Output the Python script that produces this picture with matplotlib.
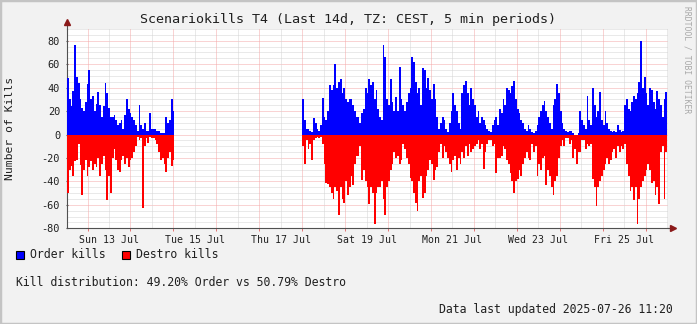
import datetime as dt
import numpy as np
import matplotlib
matplotlib.use('Agg')
import matplotlib.pyplot as plt
import matplotlib.dates as mdates
from matplotlib.patches import Rectangle

# kills per hour (CEST)
bin_hours = 1
seg1_start = dt.datetime(2025, 7, 12, 12, 30)
seg1_order = [48, 30, 24, 37, 76, 49, 44, 30, 23, 20,
              28, 43, 55, 30, 33, 20, 26, 36, 25, 15,
              24, 44, 35, 23, 15, 15, 17, 12, 8, 10,
              12, 5, 17, 30, 22, 18, 15, 12, 8, 3,
              25, 8, 5, 10, 3, 3, 18, 5, 5, 5,
              3, 3, 1, 1, 1, 15, 10, 12, 30, 20]
seg1_destro = [50, 30, 27, 35, 23, 22, 8, 26, 52, 30,
               22, 35, 28, 23, 30, 25, 28, 20, 35, 25,
               18, 30, 56, 35, 50, 20, 12, 22, 30, 32,
               22, 18, 25, 20, 28, 22, 20, 15, 10, 2,
               5, 3, 63, 10, 3, 7, 2, 3, 3, 5,
               8, 15, 22, 20, 25, 32, 20, 15, 27, 22]

seg2_start = dt.datetime(2025, 7, 18, 0, 0)
seg2_order = [30, 12, 5, 5, 3, 2, 14, 10, 5, 3,
              8, 31, 15, 12, 20, 42, 38, 42, 60, 40,
              45, 47, 35, 40, 30, 28, 30, 30, 25, 20,
              15, 15, 10, 18, 22, 40, 35, 47, 42, 45,
              30, 38, 22, 15, 12, 76, 66, 30, 25, 47,
              28, 20, 32, 20, 58, 30, 25, 20, 28, 35,
              40, 66, 62, 45, 35, 40, 25, 57, 55, 40,
              48, 38, 30, 43, 30, 15, 5, 10, 15, 12,
              5, 2, 10, 20, 35, 25, 20, 10, 5, 35,
              42, 46, 35, 25, 40, 30, 25, 15, 20, 10,
              15, 12, 8, 5, 3, 2, 8, 12, 15, 8,
              22, 18, 30, 25, 40, 38, 35, 41, 46, 30,
              22, 18, 12, 10, 5, 3, 8, 5, 2, 1,
              3, 8, 15, 20, 25, 29, 20, 15, 10, 5,
              25, 30, 43, 35, 20, 10, 5, 3, 2, 3,
              3, 1, 0, 0, 1, 20, 12, 8, 5, 33,
              12, 8, 40, 25, 15, 20, 36, 12, 8, 20,
              10, 5, 3, 2, 3, 2, 8, 4, 2, 3,
              25, 30, 22, 20, 28, 33, 30, 35, 45, 80,
              40, 49, 35, 25, 40, 38, 28, 22, 37, 30,
              25, 15, 30, 36]
seg2_destro = [10, 25, 5, 12, 8, 22, 5, 3, 2, 3,
               2, 8, 25, 41, 42, 45, 50, 55, 45, 48,
               69, 45, 55, 58, 40, 52, 45, 35, 43, 25,
               18, 18, 10, 39, 30, 40, 45, 59, 45, 50,
               76, 50, 45, 45, 40, 55, 69, 45, 40, 30,
               25, 15, 20, 18, 25, 22, 8, 12, 20, 25,
               37, 40, 50, 58, 65, 40, 35, 54, 50, 35,
               30, 22, 25, 39, 30, 28, 15, 8, 20, 10,
               15, 20, 25, 32, 22, 18, 30, 20, 25, 15,
               20, 10, 18, 8, 15, 12, 10, 8, 5, 12,
               8, 29, 15, 8, 5, 5, 10, 8, 33, 20,
               20, 18, 10, 12, 22, 25, 33, 40, 50, 40,
               38, 30, 35, 25, 20, 15, 20, 22, 8, 15,
               10, 35, 25, 30, 20, 18, 43, 30, 35, 45,
               52, 40, 35, 20, 10, 5, 10, 3, 3, 8,
               5, 20, 12, 25, 15, 15, 5, 5, 12, 8,
               10, 8, 38, 45, 61, 45, 40, 35, 30, 25,
               20, 25, 22, 15, 12, 20, 10, 15, 10, 12,
               8, 25, 35, 48, 45, 56, 45, 76, 55, 45,
               40, 35, 30, 25, 30, 41, 40, 52, 45, 59,
               15, 10, 55, 15]

view_start = dt.datetime(2025, 7, 12, 12, 30)
view_end = dt.datetime(2025, 7, 26, 12, 30)
label_days = [13, 15, 17, 19, 21, 23, 25]
y_ticks = [-80, -60, -40, -20, 0, 20, 40, 60, 80]

title = 'Scenariokills T4 (Last 14d, TZ: CEST, 5 min periods)'
mono = 'DejaVu Sans Mono'

fig = plt.figure(figsize=(6.97, 3.24), dpi=100, facecolor='#f2f2f2')
ax = fig.add_axes([67 / 697, 1 - 228.3 / 324, 601 / 697, 199.3 / 324])
ax.set_facecolor('white')

w = bin_hours / 24
for start, order, destro in [(seg1_start, seg1_order, seg1_destro),
                             (seg2_start, seg2_order, seg2_destro)]:
    x = mdates.date2num(start) + np.arange(len(order)) * w
    ax.bar(x, order, width=w, align='edge', color='#0000ff', lw=0, zorder=3)
    ax.bar(x, -np.array(destro), width=w, align='edge', color='#ff0000', lw=0, zorder=3)

x0 = mdates.date2num(view_start)
x1 = mdates.date2num(view_end)
ax.set_xlim(x0, x1)
ax.set_ylim(-80, 90)

# grid like rrdtool: dotted, red major / grey minor
dots = (0, (1, 1))
for v in range(-80, 91, 5):
    c = '#f5a8a8' if v % 20 == 0 else '#d4d4d4'
    ax.axhline(v, color=c, lw=0.72, ls=dots, zorder=1)
d = mdates.date2num(dt.datetime(2025, 7, 12))
while d <= x1:
    if d >= x0:
        ax.axvline(d, color='#f5a8a8', lw=0.72, ls=dots, zorder=1)
    if x0 <= d + 0.5 <= x1:
        ax.axvline(d + 0.5, color='#d4d4d4', lw=0.72, ls=dots, zorder=1)
    d += 1

for s in ['top', 'right']:
    ax.spines[s].set_visible(False)
for s in ['left', 'bottom']:
    ax.spines[s].set_color('#505050')
    ax.spines[s].set_linewidth(0.8)

lab_x = [mdates.date2num(dt.datetime(2025, 7, dd, 12)) for dd in label_days]
ax.set_xticks(lab_x)
ax.set_xticklabels([mdates.num2date(v).strftime('%a %d %b') for v in lab_x],
                   fontfamily=mono, fontsize=7.1, color='#202020')
ax.tick_params(axis='x', length=0, pad=5)
ax.set_xticks([mdates.date2num(dt.datetime(2025, 7, dd)) for dd in range(13, 27)], minor=True)
ax.tick_params(axis='x', which='minor', length=2, color='#e06060', direction='out')
ax.set_yticks(y_ticks)
ax.set_yticklabels([str(v) for v in y_ticks], fontfamily=mono, fontsize=7.4, color='#202020')
ax.tick_params(axis='y', length=2, color='#505050', direction='inout', pad=4)

# axis arrows
ax.plot([0, 0], [1, 1.035], transform=ax.transAxes, color='#505050', lw=0.8, clip_on=False)
ax.plot([0], [1.035], marker='^', ms=5, color='#8b1a1a', transform=ax.transAxes, clip_on=False)
ax.plot([1, 1.006], [0, 0], transform=ax.transAxes, color='#505050', lw=0.8, clip_on=False)
ax.plot([1.008], [0], marker='>', ms=5, color='#8b1a1a', transform=ax.transAxes, clip_on=False)

fig.text(348 / 697, 1 - 19 / 324, title, ha='center', va='center',
         fontfamily=mono, fontsize=9.6, color='#202020')
fig.text(10 / 697, 1 - 128 / 324, 'Number of Kills', rotation=90, ha='center', va='center',
         fontfamily=mono, fontsize=8.2, color='#202020')
fig.text(687 / 697, 1 - 60 / 324, 'RRDTOOL / TOBI OETIKER', rotation=-90, ha='center', va='center',
         fontfamily=mono, fontsize=5.8, color='#a8a8a8')

# legend
for lx, col, name in [(16, '#0000ff', 'Order kills'), (122, '#ff0000', 'Destro kills')]:
    fig.patches.append(Rectangle((lx / 697, 1 - 258.7 / 324), 7.5 / 697, 8 / 324,
                                 transform=fig.transFigure, facecolor=col,
                                 edgecolor='black', lw=0.8))
    fig.text((lx + 14) / 697, 1 - 254.7 / 324, name, ha='left', va='center',
             fontfamily=mono, fontsize=8.3, color='#202020')

fig.text(16 / 697, 1 - 282.3 / 324, 'Kill distribution: 49.20% Order vs 50.79% Destro',
         ha='left', va='center', fontfamily=mono, fontsize=8.3, color='#202020')
fig.text(673 / 697, 1 - 310 / 324, 'Data last updated 2025-07-26 11:20',
         ha='right', va='center', fontfamily=mono, fontsize=8.3, color='#202020')

fig.patches.append(Rectangle((0, 0), 1, 1, transform=fig.transFigure, fill=False,
                             edgecolor='#c4c4c4', lw=2.5))

fig.savefig('out.png', dpi=100, facecolor=fig.get_facecolor())
